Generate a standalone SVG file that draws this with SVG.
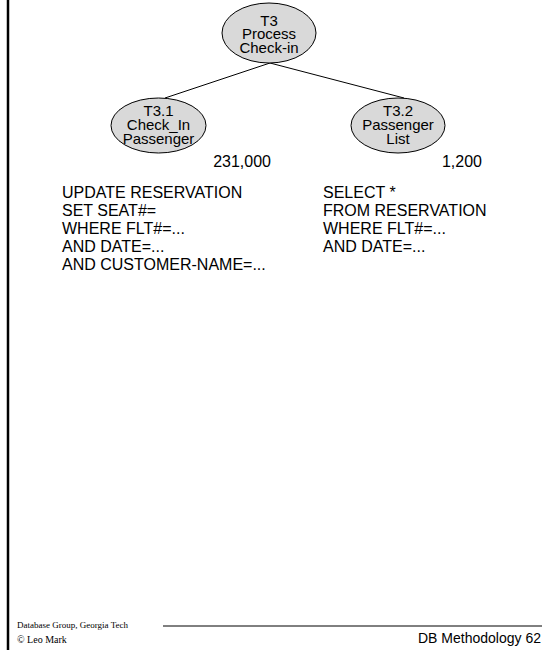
<svg xmlns="http://www.w3.org/2000/svg" width="542" height="650" viewBox="0 0 542 650">
<style>
.node ellipse{fill:#d9d9d9;stroke:#000;stroke-width:1}
.t{font-family:"Liberation Sans",Arial,sans-serif;font-size:16px;fill:#000}
.n{font-family:"Liberation Sans",Arial,sans-serif;font-size:15px;fill:#000;text-anchor:middle}
.c{text-anchor:middle}
.r{text-anchor:end}
.s{font-family:"Liberation Serif","Times New Roman",serif;font-size:9px;fill:#000}
.edge{stroke:#000;stroke-width:1;fill:none}
</style>
<rect x="0" y="0" width="542" height="650" fill="#fff"/>
<line x1="8" y1="0" x2="8" y2="650" stroke="#000" stroke-width="2.5"/>
<g id="connectors">
<line class="edge" x1="270" y1="63" x2="165" y2="98"/>
<line class="edge" x1="270" y1="63" x2="404" y2="98"/>
</g>
<g id="T3" class="node">
<ellipse cx="269" cy="33" rx="47" ry="30"/>
<text class="n" x="269" y="25.5">T3</text>
<text class="n" x="269" y="39">Process</text>
<text class="n" x="269" y="52.5">Check-in</text>
</g>
<g id="T3_1" class="node">
<ellipse cx="158.5" cy="125.5" rx="47.5" ry="27.5"/>
<text class="n" x="158.5" y="116">T3.1</text>
<text class="n" x="158.5" y="130">Check_In</text>
<text class="n" x="158.5" y="144">Passenger</text>
</g>
<g id="T3_2" class="node">
<ellipse cx="398" cy="125.5" rx="47" ry="27.5"/>
<text class="n" x="398" y="116">T3.2</text>
<text class="n" x="398" y="130">Passenger</text>
<text class="n" x="398" y="144">List</text>
</g>
<text class="t r" x="271" y="167">231,000</text>
<text class="t r" x="482" y="167">1,200</text>
<g id="sql1">
<text class="t" x="62" y="198">UPDATE RESERVATION</text>
<text class="t" x="62" y="216">SET SEAT#=</text>
<text class="t" x="62" y="234">WHERE FLT#=...</text>
<text class="t" x="62" y="252">AND DATE=...</text>
<text class="t" x="62" y="270">AND CUSTOMER-NAME=...</text>
</g>
<g id="sql2">
<text class="t" x="323" y="198">SELECT *</text>
<text class="t" x="323" y="216">FROM RESERVATION</text>
<text class="t" x="323" y="234">WHERE FLT#=...</text>
<text class="t" x="323" y="252">AND DATE=...</text>
</g>
<g id="footer">
<text class="s" x="17" y="628">Database Group, Georgia Tech</text>
<text class="s" x="17" y="643" style="font-size:10px">© Leo Mark</text>
<line x1="163" y1="626" x2="542" y2="626" stroke="#000" stroke-width="1"/>
<text class="t" x="418" y="643" style="font-size:14px">DB Methodology 62</text>
</g>
</svg>
